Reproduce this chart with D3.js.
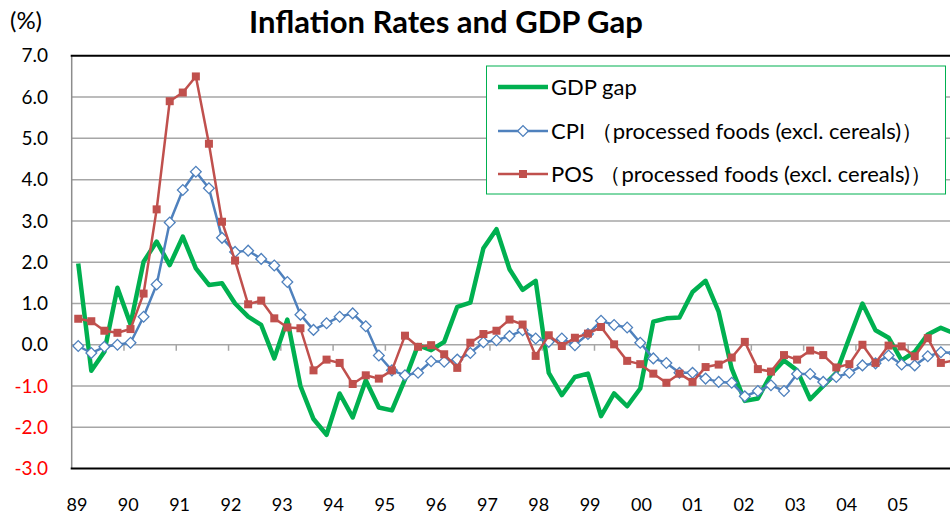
<!DOCTYPE html>
<html>
<head>
<meta charset="utf-8">
<script src="https://cdn.jsdelivr.net/npm/d3@7"></script>
<style>
  body { margin: 0; background: #fff; }
  svg { display: block; font-family: Lato, "Noto Sans", sans-serif; }
</style>
</head>
<body>
<svg id="chart" width="950" height="522"></svg>
<script>
// ------------------------------------------------------------
// Data: quarterly, 1989Q1 .. 2005Q4 (y/y %, GDP gap in %)
// ------------------------------------------------------------
const yearLabels = ["89","90","91","92","93","94","95","96","97","98","99","00","01","02","03","04","05"];
const yTicks = [7, 6, 5, 4, 3, 2, 1, 0, -1, -2, -3];

const gdpGap = [
   1.97, -0.63, -0.17,  1.38,   0.50,  2.01,  2.50,  1.93,   2.62,  1.85,  1.45,  1.49,
   1.00,  0.68,  0.48, -0.33,   0.61, -1.00, -1.80, -2.18,  -1.18, -1.76, -0.86, -1.52,
  -1.59, -0.84, -0.01, -0.13,   0.07,  0.92,  1.02,  2.34,   2.80,  1.83,  1.33,  1.55,
  -0.68, -1.22, -0.78, -0.70,  -1.73, -1.18, -1.49, -1.06,   0.56,  0.64,  0.66,  1.28,
   1.55,  0.80, -0.58, -1.36,  -1.30, -0.72, -0.38, -0.62,  -1.32, -1.00, -0.68,  0.17,
   1.00,  0.35,  0.17, -0.38,  -0.17,  0.25,  0.41,  0.28
];

const cpiFoods = [
  -0.03, -0.20, -0.05,  0.00,   0.05,  0.68,  1.46,  2.96,   3.75,  4.19,  3.79,  2.59,
   2.25,  2.28,  2.08,  1.92,   1.52,  0.73,  0.36,  0.52,   0.68,  0.76,  0.45, -0.26,
  -0.62, -0.74, -0.68, -0.40,  -0.41, -0.36, -0.20,  0.06,   0.11,  0.21,  0.35,  0.15,
   0.07,  0.15, -0.01,  0.26,   0.58,  0.48,  0.42,  0.05,  -0.33, -0.44, -0.68, -0.68,
  -0.82, -0.90, -0.92, -1.25,  -1.12, -0.98, -1.12, -0.71,  -0.71, -0.90, -0.78, -0.68,
  -0.50, -0.45, -0.26, -0.48,  -0.50, -0.28, -0.18, -0.20
];

const posFoods = [
   0.63,  0.57,  0.34,  0.29,   0.38,  1.24,  3.28,  5.90,   6.11,  6.50,  4.87,  2.98,
   2.04,  0.98,  1.07,  0.64,   0.42,  0.40, -0.62, -0.36,  -0.44, -0.95, -0.74, -0.82,
  -0.62,  0.22, -0.05, -0.01,  -0.23, -0.56,  0.05,  0.26,   0.34,  0.61,  0.49, -0.27,
   0.23, -0.03,  0.17,  0.27,   0.43,  0.01, -0.39, -0.47,  -0.70, -0.92, -0.70, -0.90,
  -0.54, -0.48, -0.31,  0.07,  -0.59, -0.65, -0.25, -0.36,  -0.14, -0.25, -0.55, -0.47,
   0.00, -0.44, -0.02, -0.04,  -0.28,  0.16, -0.44, -0.38
];

const seriesNames = ["GDP gap", "CPI （processed foods (excl. cereals)）", "POS （processed foods (excl. cereals)）"];

// ------------------------------------------------------------
// Layout
// ------------------------------------------------------------
const GREEN = "#00b050", BLUE = "#4f81bd", RED = "#c0504d", GRID = "#a6a6a6";
const plotLeft = 71.7, plotTop = 55.8, plotBottom = 468.6;
const quarterW = 13.07;
const quarters = d3.range(gdpGap.length);

const svg = d3.select("#chart");

const x = d3.scaleBand()
    .domain(quarters)
    .range([plotLeft, plotLeft + quarterW * quarters.length])
    .paddingInner(0).paddingOuter(0);

const y = d3.scaleLinear().domain([-3, 7]).range([plotBottom, plotTop]);

// year labels were placed as their own row in the original, slightly tighter than the quarters
const xLabel = d3.scalePoint().domain(yearLabels).range([77, 898]);

const cx = i => x(i) + x.bandwidth() / 2;

// ------------------------------------------------------------
// Gridlines + frame
// ------------------------------------------------------------
svg.append("g")
    .selectAll("line")
    .data(yTicks.filter(v => v > -3 && v < 7))
    .join("line")
    .attr("x1", plotLeft).attr("x2", 950)
    .attr("y1", d => y(d)).attr("y2", d => y(d))
    .attr("stroke", GRID).attr("stroke-width", 1.5);

// year ticks hanging off the zero line
svg.append("g")
    .selectAll("line")
    .data(d3.range(4, quarters.length, 4))
    .join("line")
    .attr("x1", d => x(d)).attr("x2", d => x(d))
    .attr("y1", y(0)).attr("y2", y(0) + 6)
    .attr("stroke", GRID).attr("stroke-width", 1.5);

svg.append("line")  // left axis
    .attr("x1", plotLeft).attr("x2", plotLeft)
    .attr("y1", plotTop).attr("y2", plotBottom)
    .attr("stroke", "#8c8c8c").attr("stroke-width", 1.5);

svg.append("line")  // top border
    .attr("x1", plotLeft - 1).attr("x2", 950)
    .attr("y1", y(7)).attr("y2", y(7))
    .attr("stroke", "#000").attr("stroke-width", 2);

svg.append("line")  // bottom border
    .attr("x1", plotLeft - 1).attr("x2", 950)
    .attr("y1", y(-3)).attr("y2", y(-3))
    .attr("stroke", "#000").attr("stroke-width", 2);

// ------------------------------------------------------------
// Axis labels and title
// ------------------------------------------------------------
svg.append("g")
    .selectAll("text")
    .data(yTicks)
    .join("text")
    .attr("x", 48)
    .attr("y", d => y(d))
    .attr("dy", "0.35em")
    .attr("text-anchor", "end")
    .attr("font-size", 19)
    .attr("fill", d => d < 0 ? "#ff0000" : "#000")
    .text(d => d.toFixed(1));

svg.append("g")
    .selectAll("text")
    .data(yearLabels)
    .join("text")
    .attr("x", d => xLabel(d))
    .attr("y", 505)
    .attr("dy", "0.35em")
    .attr("text-anchor", "middle")
    .attr("font-size", 18)
    .text(d => d);

svg.append("text")
    .attr("x", 26).attr("y", 21).attr("dy", "0.35em")
    .attr("text-anchor", "middle")
    .attr("font-size", 24)
    .text("(%)");

svg.append("text")
    .attr("x", 446).attr("y", 22).attr("dy", "0.35em")
    .attr("text-anchor", "middle")
    .attr("font-size", 31).attr("font-weight", "bold")
    .text("Inflation Rates and GDP Gap");

// ------------------------------------------------------------
// Series
// ------------------------------------------------------------
const line = d3.line().x((d, i) => cx(i)).y(d => y(d));

svg.append("path")
    .datum(gdpGap)
    .attr("d", line)
    .attr("fill", "none").attr("stroke", GREEN)
    .attr("stroke-width", 4.5).attr("stroke-linejoin", "round");

svg.append("path")
    .datum(cpiFoods)
    .attr("d", line)
    .attr("fill", "none").attr("stroke", BLUE)
    .attr("stroke-width", 2.5).attr("stroke-linejoin", "round");

svg.append("g")
    .selectAll("path")
    .data(cpiFoods)
    .join("path")
    .attr("transform", (d, i) => `translate(${cx(i)},${y(d)}) rotate(45)`)
    .attr("d", "M-3.8,-3.8H3.8V3.8H-3.8Z")
    .attr("fill", "#fff").attr("stroke", BLUE).attr("stroke-width", 1.3);

svg.append("path")
    .datum(posFoods)
    .attr("d", line)
    .attr("fill", "none").attr("stroke", RED)
    .attr("stroke-width", 2.5).attr("stroke-linejoin", "round");

svg.append("g")
    .selectAll("rect")
    .data(posFoods)
    .join("rect")
    .attr("x", (d, i) => cx(i) - 4)
    .attr("y", d => y(d) - 4)
    .attr("width", 8).attr("height", 8)
    .attr("fill", RED);

// ------------------------------------------------------------
// Legend
// ------------------------------------------------------------
const legend = svg.append("g");
legend.append("rect")
    .attr("x", 486.5).attr("y", 66).attr("width", 459).attr("height", 128)
    .attr("fill", "#fff").attr("stroke", GREEN).attr("stroke-width", 1);

const legendY = [87, 131, 174];
const legendColors = [GREEN, BLUE, RED];
const legendWidths = [4.5, 2.5, 2.5];

legend.selectAll("line.sample")
    .data(seriesNames)
    .join("line")
    .attr("class", "sample")
    .attr("x1", 498).attr("x2", 548)
    .attr("y1", (d, i) => legendY[i]).attr("y2", (d, i) => legendY[i])
    .attr("stroke", (d, i) => legendColors[i])
    .attr("stroke-width", (d, i) => legendWidths[i]);

legend.append("path")
    .attr("transform", `translate(523,${legendY[1]}) rotate(45)`)
    .attr("d", "M-3.8,-3.8H3.8V3.8H-3.8Z")
    .attr("fill", "#fff").attr("stroke", BLUE).attr("stroke-width", 1.3);

legend.append("rect")
    .attr("x", 519).attr("y", legendY[2] - 4)
    .attr("width", 8).attr("height", 8)
    .attr("fill", RED);

legend.selectAll("text")
    .data(seriesNames)
    .join("text")
    .attr("x", 551)
    .attr("y", (d, i) => legendY[i])
    .attr("dy", "0.35em")
    .attr("font-size", 22)
    .text(d => d);
</script>
</body>
</html>
